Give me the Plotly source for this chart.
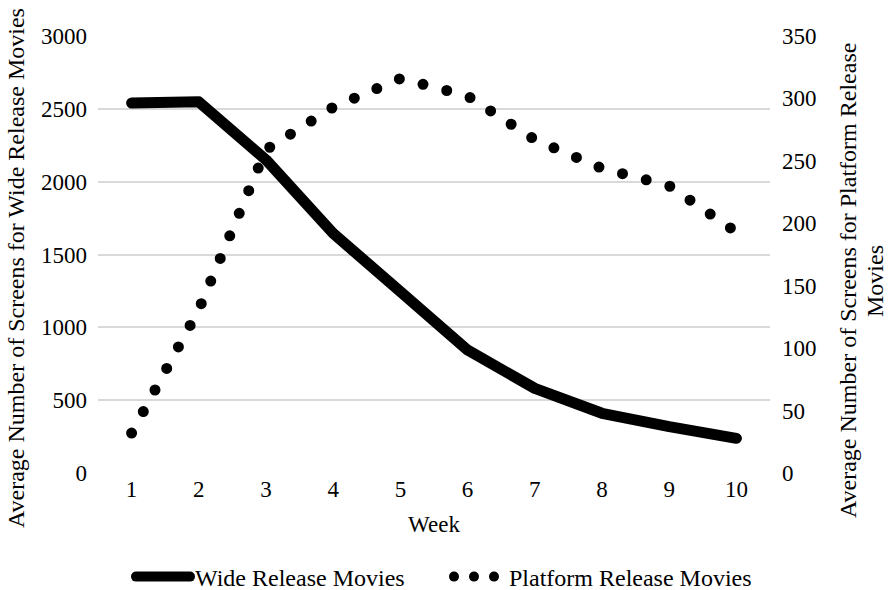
import plotly.graph_objects as go

weeks = [1, 2, 3, 4, 5, 6, 7, 8, 9, 10]
wide_release = [2540, 2548, 2150, 1645, 1245, 844, 581, 410, 318, 238]
platform_release = [32, 131, 259, 293, 316, 302, 267, 244, 230, 193]
left_ticks = [0, 500, 1000, 1500, 2000, 2500, 3000]
right_ticks = [0, 50, 100, 150, 200, 250, 300, 350]

FONT = "Liberation Serif, Times New Roman, serif"
L, R, T, B = 98, 119, 36, 117
W, H = 889, 590
PW, PH = W - L - R, H - T - B

def px(x):
    return (x - L) / PW

def py(y):
    return (H - B - y) / PH

fig = go.Figure()
fig.add_trace(go.Scatter(
    x=weeks, y=wide_release, name="Wide Release Movies", mode="lines",
    line=dict(color="black", width=11), yaxis="y", legend="legend"))
fig.add_trace(go.Scatter(
    x=weeks, y=platform_release, name="Platform Release Movies", mode="lines",
    line=dict(color="black", width=11, dash="11px,13px"), yaxis="y2", legend="legend2"))

leg_common = dict(orientation="h", yanchor="middle", xanchor="left",
                  font=dict(size=24, family=FONT, color="black"),
                  bgcolor="rgba(0,0,0,0)", borderwidth=0)

fig.update_layout(
    width=W, height=H, autosize=False,
    margin=dict(l=L, r=R, t=T, b=B, autoexpand=False),
    paper_bgcolor="white", plot_bgcolor="white",
    font=dict(family=FONT, size=23, color="black"),
    showlegend=True,
    legend=dict(x=px(131), y=py(577), itemwidth=54, **leg_common),
    legend2=dict(x=px(449), y=py(577), itemwidth=50, **leg_common),
    xaxis=dict(range=[0.5, 10.5], tickvals=weeks, showgrid=False, zeroline=False,
               showline=False, ticks="", ticklabelstandoff=0, automargin=False,
               title=dict(text="Week", standoff=14, font=dict(size=23))),
    yaxis=dict(range=[0, 3000], tickvals=left_ticks, showgrid=True, gridcolor="#d9d9d9",
               gridwidth=1.5, zeroline=False, showline=False, ticks="",
               ticklabelstandoff=10, automargin=False),
    yaxis2=dict(range=[0, 350], tickvals=right_ticks, overlaying="y", side="right",
                showgrid=False, zeroline=False, showline=False, ticks="",
                ticklabelstandoff=11, automargin=False),
    annotations=[
        dict(text="Average Number of Screens for Wide Release Movies", textangle=-90,
             xref="paper", yref="paper", x=px(16), y=py(268), xanchor="center",
             yanchor="middle", showarrow=False, font=dict(size=24, family=FONT, color="black")),
        dict(text="Average Number of Screens for Platform Release", textangle=-90,
             xref="paper", yref="paper", x=px(848), y=py(281), xanchor="center",
             yanchor="middle", showarrow=False, font=dict(size=24, family=FONT, color="black")),
        dict(text="Movies", textangle=-90,
             xref="paper", yref="paper", x=px(875), y=py(281), xanchor="center",
             yanchor="middle", showarrow=False, font=dict(size=24, family=FONT, color="black")),
    ],
)

post = """
document.documentElement.style.margin='0';
document.body.style.margin='0';
document.body.style.overflow='hidden';
var gd = document.getElementById('{plot_id}');
function fix(){
  var lines = gd.querySelectorAll('.scatterlayer .trace path.js-line');
  lines.forEach(function(p){ p.style.strokeLinecap='round'; p.style.strokeLinejoin='round'; });
  if (lines[1]) { lines[1].style.strokeDasharray = '0px,24.5px'; }
  var leg = gd.querySelectorAll('.legendlines path');
  leg.forEach(function(p){ p.style.strokeLinecap='round'; p.style.strokeLinejoin='round'; });
  if (leg[1]) { leg[1].style.strokeDasharray = '0px,20px,0px,20px,0px,200px'; }
}
fix();
gd.on('plotly_afterplot', fix);
"""

fig.write_html("out.html", post_script=post,
               config={"responsive": False, "displayModeBar": False},
               default_width="889px", default_height="590px")
